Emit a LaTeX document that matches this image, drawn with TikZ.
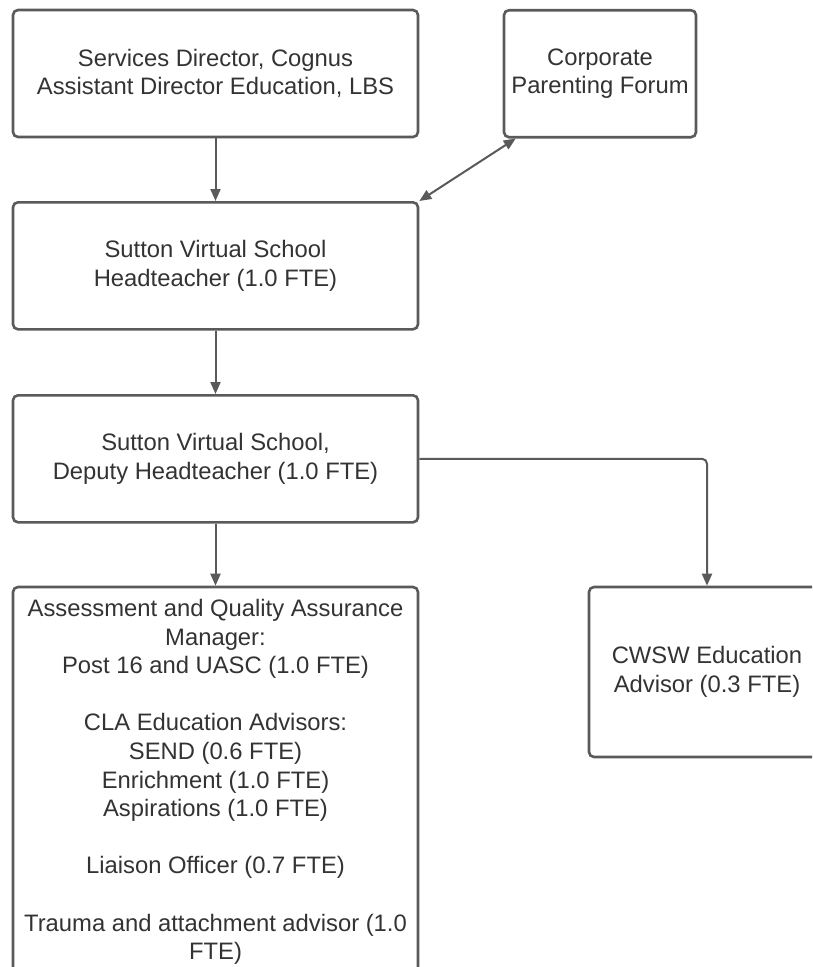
\documentclass[tikz,border=0pt]{standalone}
\usepackage{fontspec}
\setmainfont{Liberation Sans}
\usetikzlibrary{arrows.meta,calc}
\definecolor{edge}{HTML}{5A5A5A}
\definecolor{ink}{HTML}{333333}
\begin{document}
\begin{tikzpicture}[x=1pt,y=-1pt,
  box/.style={draw=edge, line width=2.6pt, rounded corners=5pt, fill=white,
    align=center, text=ink, inner sep=0pt,
    font=\fontsize{23.8}{28.6}\selectfont},
  conn/.style={draw=edge, line width=2pt, -{Triangle[length=12pt,width=10pt]}},
  conn2/.style={draw=edge, line width=2pt, {Triangle[length=12pt,width=10pt]}-{Triangle[length=12pt,width=10pt]}}]
\path[use as bounding box] (0,0) rectangle (812,967);
\clip (0,0) rectangle (812,967);

\node[box, minimum width=405pt, minimum height=127pt] (b1) at (215.5,73.5)
  {Services Director, Cognus\\Assistant Director Education, LBS};
\node[box, minimum width=192pt, minimum height=127pt] (b2) at (600,73.7)
  {Corporate\\Parenting Forum};
\node[box, minimum width=405pt, minimum height=127pt] (b3) at (215.5,265.8)
  {Sutton Virtual School\\Headteacher (1.0 FTE)};
\node[box, minimum width=405pt, minimum height=127pt] (b4) at (215.5,458.8)
  {Sutton Virtual School,\\Deputy Headteacher (1.0 FTE)};
\node[box, minimum width=236pt, minimum height=170pt] (b5) at (707,672)
  {CWSW Education\\Advisor (0.3 FTE)};
\node[box, minimum width=405pt, minimum height=390pt] (b6) at (215.5,782)
  {Assessment and Quality Assurance\\Manager:\\Post 16 and UASC (1.0 FTE)\\[28.6pt]
   CLA Education Advisors:\\SEND (0.6 FTE)\\Enrichment (1.0 FTE)\\Aspirations (1.0 FTE)\\[28.6pt]
   Liaison Officer (0.7 FTE)\\[28.6pt]
   Trauma and attachment advisor (1.0\\FTE)};

\draw[conn] (b1.south) -- (b3.north);
\draw[conn2] (b3.north east) -- ([xshift=13pt]b2.south west);
\draw[conn] (b3.south) -- (b4.north);
\draw[conn] (b4.south) -- (b6.north);
\draw[conn, rounded corners=5pt] (b4.east) -| (b5.north);
\end{tikzpicture}
\end{document}
